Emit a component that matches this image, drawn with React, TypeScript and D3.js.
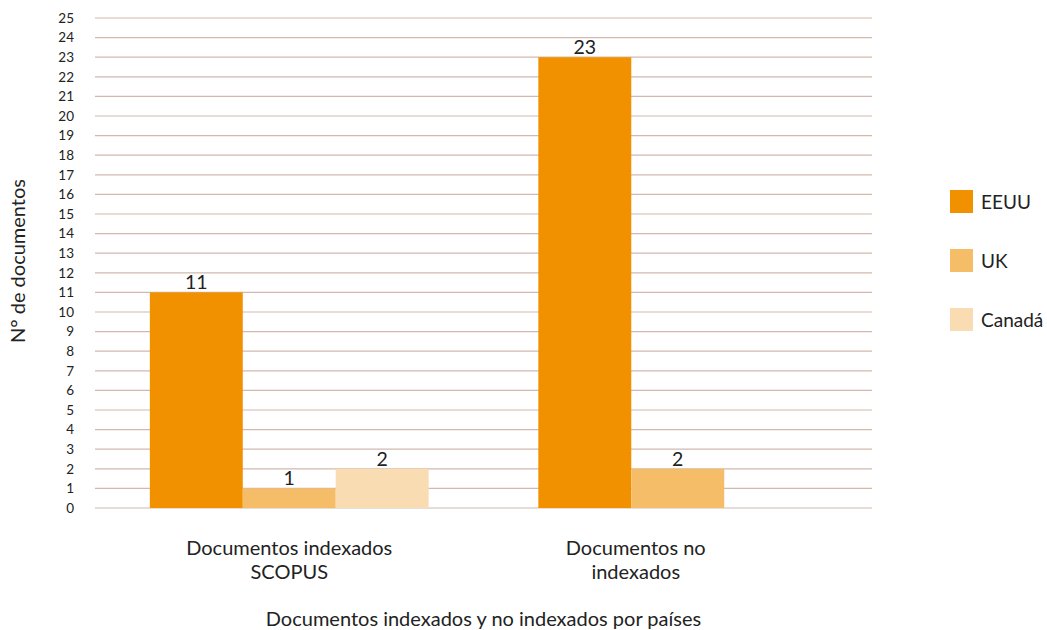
import React from "react";
import * as d3 from "d3";

const categories = [["Documentos indexados", "SCOPUS"], ["Documentos no", "indexados"]];
const seriesNames = ["EEUU", "UK", "Canadá"];
const seriesColors = ["#f29100", "#f6bd68", "#fadcb2"];
// values per category, one per series (null = no bar)
const eeuuValues = [11, 23];
const ukValues = [1, 2];
const canadaValues: (number | null)[] = [2, null];
const yTicks = d3.range(0, 26);

const W = 1047;
const H = 630;
const FONT = "Lato, 'Open Sans', sans-serif";
// the second category label sits left of its band centre in the original
const LABEL_SHIFT = [0, -42];

export default function App() {
    const left = 95;
    const right = 872;
    const top = 18;
    const bottom = 508;

    const x = d3.scaleBand<number>().domain([0, 1]).range([left, right]).paddingInner(0).paddingOuter(0);
    const inner = d3.scaleBand<number>().domain([0, 1, 2]).range([0, x.bandwidth()]).paddingOuter(0.59).paddingInner(0);
    const y = d3.scaleLinear().domain([0, 25]).range([bottom, top]);

    const series = [eeuuValues, ukValues, canadaValues];

    return (
        <svg width={W} height={H} style={{ position: "absolute", left: 0, top: 0, fontFamily: FONT }}>
            <rect width={W} height={H} fill="#fff" />
            {yTicks.map((t) => (
                <g key={t}>
                    <line x1={left} x2={right} y1={y(t)} y2={y(t)} stroke="#d2b9b0" strokeWidth={1.2} />
                    <text x={74} y={y(t)} dy="0.36em" textAnchor="end" fontSize={13.5} fill="#222">{t}</text>
                </g>
            ))}
            {series.map((vals, si) => vals.map((v, ci) => {
                if (v == null) return null;
                const bx = (x(ci) ?? 0) + (inner(si) ?? 0);
                return (
                    <g key={`${si}-${ci}`}>
                        <rect x={bx} y={y(v)} width={inner.bandwidth()} height={bottom - y(v)} fill={seriesColors[si]} />
                        <text x={bx + inner.bandwidth() / 2} y={y(v) - 3} textAnchor="middle" fontSize={19.5} fill="#222">{v}</text>
                    </g>
                );
            }))}
            {categories.map((lines, ci) => {
                const cx = (x(ci) ?? 0) + x.bandwidth() / 2 + LABEL_SHIFT[ci];
                return (
                    <text key={ci} x={cx} y={555} textAnchor="middle" fontSize={20} fill="#222">
                        {lines.map((l, li) => (
                            <tspan key={li} x={cx} dy={li === 0 ? 0 : 24}>{l}</tspan>
                        ))}
                    </text>
                );
            })}
            <text x={(left + right) / 2} y={626} textAnchor="middle" fontSize={20} fill="#222">
                Documentos indexados y no indexados por países
            </text>
            <text transform={`translate(25,261) rotate(-90)`} textAnchor="middle" fontSize={20} fill="#222">
                N° de documentos
            </text>
            {seriesNames.map((name, i) => (
                <g key={name} transform={`translate(950,${190 + i * 59})`}>
                    <rect width={23} height={23} fill={seriesColors[i]} />
                    <text x={31} y={12} dy="0.36em" fontSize={19} fill="#222">{name}</text>
                </g>
            ))}
        </svg>
    );
}
